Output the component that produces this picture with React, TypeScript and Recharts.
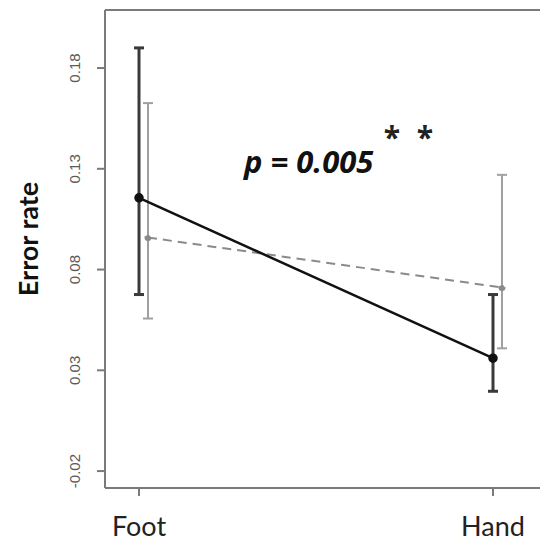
import React from "react";
import {
  ComposedChart,
  Line,
  XAxis,
  YAxis,
  ErrorBar,
  ReferenceLine,
} from "recharts";

const categories = ["Foot", "Hand"];

// solid black series
const blackMean = [0.1156, 0.036];
const blackLow = [0.0676, 0.0196];
const blackHigh = [0.19, 0.0676];

// dashed grey series
const greyMean = [0.0959, 0.0711];
const greyLow = [0.0557, 0.0409];
const greyHigh = [0.1626, 0.127];

const yTicks = [-0.02, 0.03, 0.08, 0.13, 0.18];
const yDomain = [-0.0284, 0.2088];

const data = categories.map((name, i) => ({
  name,
  black: blackMean[i],
  blackErr: [blackMean[i] - blackLow[i], blackHigh[i] - blackMean[i]],
  grey: greyMean[i],
  greyErr: [greyMean[i] - greyLow[i], greyHigh[i] - greyMean[i]],
}));

const YTick = (props: any) => {
  const { x, y, payload } = props;
  return (
    <text
      transform={`translate(${x - 15},${y}) rotate(-90)`}
      textAnchor="middle"
      fill="#5a5a5a"
      fontSize={15}
      fontFamily="Liberation Sans, Arial, sans-serif"
    >
      {payload.value.toFixed(2)}
    </text>
  );
};

const XTick = (props: any) => {
  const { x, y, payload } = props;
  return (
    <text
      x={x}
      y={y + 38}
      textAnchor="middle"
      fill="#222"
      fontSize={27}
      fontFamily="Lato, sans-serif"
    >
      {payload.value}
    </text>
  );
};

const App = () => {
  return (
    <div
      style={{
        position: "absolute",
        left: 0,
        top: 0,
        width: 540,
        height: 543,
        overflow: "hidden",
        background: "#fff",
      }}
    >
      <ComposedChart
        width={560}
        height={543}
        data={data}
        margin={{ top: 10, right: 0, bottom: 0, left: 0 }}
      >
        <XAxis
          dataKey="name"
          scale="point"
          padding={{ left: 34, right: 67 }}
          height={55}
          stroke="#7a7a7a"
          strokeWidth={2}
          tickSize={8}
          tickMargin={2}
          tick={<XTick />}
        />
        <XAxis
          xAxisId="grey"
          dataKey="name"
          scale="point"
          padding={{ left: 43, right: 58 }}
          hide
        />
        <YAxis
          type="number"
          domain={yDomain}
          ticks={yTicks}
          width={105}
          stroke="#7a7a7a"
          strokeWidth={2}
          tickSize={8}
          tickMargin={2}
          tick={<YTick />}
          allowDataOverflow
        />
        <ReferenceLine
          y={yDomain[1]}
          stroke="#7a7a7a"
          strokeWidth={2}
          ifOverflow="visible"
        />
        <Line
          xAxisId="grey"
          dataKey="grey"
          stroke="#8a8a8a"
          strokeWidth={2}
          strokeDasharray="9 6"
          dot={{ r: 2.5, fill: "#8a8a8a", stroke: "#8a8a8a" }}
          isAnimationActive={false}
        >
          <ErrorBar
            dataKey="greyErr"
            width={5}
            stroke="#a0a0a0"
            strokeWidth={2}
            direction="y"
          />
        </Line>
        <Line
          dataKey="black"
          stroke="#111"
          strokeWidth={2.5}
          dot={{ r: 3.5, fill: "#111", stroke: "#111" }}
          isAnimationActive={false}
        >
          <ErrorBar
            dataKey="blackErr"
            width={5}
            stroke="#3a3a3a"
            strokeWidth={3}
            direction="y"
          />
        </Line>
        <text
          transform="translate(38,239) rotate(-90)"
          textAnchor="middle"
          fill="#111"
          fontSize={27}
          fontWeight="bold"
          fontFamily="Lato, sans-serif"
        >
          Error rate
        </text>
        <text
          x={244}
          y={173}
          fill="#111"
          fontSize={31}
          fontWeight="bold"
          fontStyle="italic"
          fontFamily="Open Sans, sans-serif"
        >
          p = 0.005
        </text>
        <text
          x={392}
          y={148}
          textAnchor="middle"
          fill="#222"
          fontSize={30}
          fontWeight="bold"
          fontFamily="Open Sans, sans-serif"
        >
          *
        </text>
        <text
          x={425}
          y={148}
          textAnchor="middle"
          fill="#222"
          fontSize={30}
          fontWeight="bold"
          fontFamily="Open Sans, sans-serif"
        >
          *
        </text>
      </ComposedChart>
    </div>
  );
};

export default App;
